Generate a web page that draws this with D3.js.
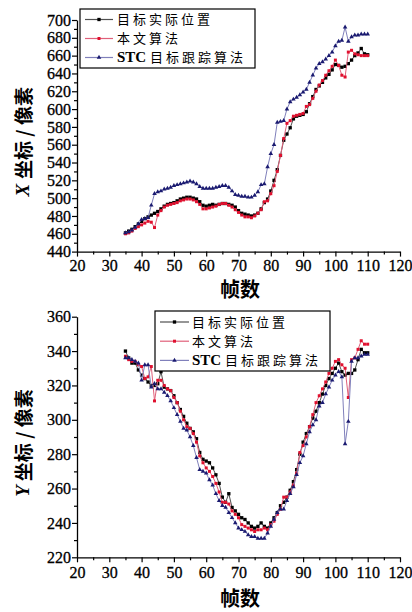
<!DOCTYPE html>
<html><head><meta charset="utf-8">
<script src="https://cdn.jsdelivr.net/npm/d3@7"></script>
<style>body{margin:0;background:#fff}</style>
</head><body><svg id="c" width="412" height="612"></svg>
<script>
const frames = [35,36,37,38,39,40,41,42,43,44,45,46,47,48,49,50,51,52,53,54,55,56,57,58,59,60,61,62,63,64,65,66,67,68,69,70,71,72,73,74,75,76,77,78,79,80,81,82,83,84,85,86,87,88,89,90,91,92,93,94,95,96,97,98,99,100,101,102,103,104,105,106,107,108,109,110];
const seriesNames = ["目标实际位置","本文算法","STC 目标跟踪算法"];
const xTicks = [20,30,40,50,60,70,80,90,100,110,120];
const xTopTicks = [440,460,480,500,520,540,560,580,600,620,640,660,680,700];
const yBotTicks = [220,240,260,280,300,320,340,360];

const xActual = [461,463,465,468,471,474,477,479,481,483,
485,488,491,493,494,495,497,499,500,501,
501,500,499,496,492,491,492,493,492,493,
494,494,493,492,490,486,483,482,481,480,
481,483,488,495,499,508,520,532,548,565,
572,579,589,592,593,594,597,606,614,622,
626,630,635,639,644,650,649,647,648,651,
655,660,663,668,662,661];
const xOurs = [460,461,463,466,468,470,472,474,473,467,
481,486,490,492,493,494,495,497,498,499,
499,498,496,493,488,488,489,490,491,493,
494,494,492,490,487,484,481,479,479,478,
480,483,487,496,497,505,514,530,548,567,
584,587,592,593,594,595,603,605,612,620,
627,632,638,643,648,655,649,638,636,664,
666,662,661,660,660,660];
const xSTC = [461,462,464,467,471,476,477,478,492,505,
507,508,510,511,512,514,515,516,517,518,
519,518,516,513,511,511,511,511,512,513,
514,514,512,508,504,503,502,502,501,501,
503,507,515,516,535,550,560,585,586,587,
600,608,611,613,616,619,622,630,638,646,
651,653,656,660,664,671,676,677,692,676,
681,683,683,684,684,684];

const yActual = [340,336,333,333,329,326,324,322,320,320,
321,328,319,318,317,314,310,306,302,298,
295,293,289,281,277,276,275,272,268,263,
255,252,257,249,247,245,243,242,240,238,
237,238,240,238,237,240,243,246,250,252,
255,259,264,271,280,287,292,296,301,305,
310,315,320,324,327,330,333,328,326,327,
327,329,335,341,339,339];
const yOurs = [337,335,334,334,332,331,324,325,331,311,
323,323,320,318,317,313,310,305,300,296,
295,292,287,279,275,272,270,267,263,258,
252,252,251,247,245,243,239,238,237,236,
235,236,236,237,236,239,241,245,248,255,
255,258,262,269,281,285,290,296,303,310,
314,318,322,327,330,334,335,332,330,313,
335,336,341,346,344,344];
const ySTC = [336,336,335,334,333,323,332,332,319,321,
318,318,316,314,311,307,303,299,295,294,
290,285,278,271,270,269,265,262,257,253,
250,249,246,243,240,237,236,235,233,232,
232,231,231,231,234,238,242,246,248,248,
253,257,261,268,275,279,286,293,297,300,
308,310,315,319,323,326,328,325,286,299,
334,336,336,337,338,338];

const styles = [
  {line:"#505050", mark:"#000000", shape:d3.symbolSquare, size:11},
  {line:"#e0607a", mark:"#e0102e", shape:d3.symbolSquare, size:9},
  {line:"#8080bb", mark:"#1a1a70", shape:d3.symbolTriangle, size:9}
];

const svg = d3.select("#c");
const serif = "'Liberation Serif','Times New Roman',serif";
const cjk = "'Noto Sans CJK SC','Noto Sans CJK JP',sans-serif";
const x = d3.scaleLinear().domain([20,120]).range([77,400]);

function chart(yDomain, yRange, yTicks, data, legend, axisLabel, xLabelPad, titleY){
  const y = d3.scaleLinear().domain(yDomain).range(yRange);
  const g = svg.append("g");
  const bottom = yRange[0];
  const xMinor = xTicks.slice(0,-1).map(v=>v+5);
  g.append("g").attr("transform",`translate(0,${bottom})`)
    .call(d3.axisBottom(x).tickValues(xMinor).tickSize(3).tickFormat(""))
    .call(a=>a.select(".domain").remove());
  const yMinor = yTicks.slice(0,-1).map(v=>v+10);
  g.append("g").attr("transform",`translate(77,0)`)
    .call(d3.axisLeft(y).tickValues(yMinor).tickSize(3).tickFormat(""))
    .call(a=>a.select(".domain").remove());
  const xa = g.append("g").attr("transform",`translate(0,${bottom})`)
    .call(d3.axisBottom(x).tickValues(xTicks).tickSize(5).tickSizeOuter(0).tickPadding(xLabelPad));
  const ya = g.append("g").attr("transform",`translate(77,0)`)
    .call(d3.axisLeft(y).tickValues(yTicks).tickSize(5).tickSizeOuter(0).tickPadding(1));
  [xa,ya].forEach(a=>{
    a.selectAll("text").attr("font-family",serif).attr("font-size",16).attr("fill","#000")
     .attr("stroke","#000").attr("stroke-width",0.3);
    a.selectAll("line,path").attr("stroke","#000").attr("stroke-width",1.3);
  });
  g.selectAll(".tick line").attr("stroke","#000").attr("stroke-width",1.2);

  data.forEach((vals,i)=>{
    const st = styles[i];
    const pts = frames.map((f,k)=>[f,vals[k]]);
    g.append("path").datum(pts)
      .attr("fill","none").attr("stroke",st.line).attr("stroke-width",1)
      .attr("d",d3.line().x(d=>x(d[0])).y(d=>y(d[1])));
    g.append("g").selectAll("path").data(pts).join("path")
      .attr("transform",d=>`translate(${x(d[0])},${y(d[1])})`)
      .attr("d",d3.symbol().type(st.shape).size(st.size))
      .attr("fill",st.mark);
  });

  const L = legend;
  g.append("rect").attr("x",L.x).attr("y",L.y).attr("width",L.w).attr("height",L.h)
    .attr("fill","#fff").attr("stroke","#000").attr("stroke-width",1.2);
  seriesNames.forEach((name,i)=>{
    const st = styles[i];
    const cy = L.y + L.r0 + i*L.dy;
    g.append("line").attr("x1",L.x+L.l0).attr("x2",L.x+L.l1).attr("y1",cy).attr("y2",cy)
      .attr("stroke",st.line).attr("stroke-width",1.2);
    g.append("path").attr("transform",`translate(${L.x+(L.l0+L.l1)/2},${cy})`)
      .attr("d",d3.symbol().type(st.shape).size(st.size)).attr("fill",st.mark);
    const t = g.append("text").attr("x",L.x+L.tx).attr("y",cy).attr("dy","0.36em")
      .attr("font-size",13).attr("fill","#000");
    if(name.startsWith("STC")){
      t.append("tspan").attr("font-family",serif).attr("font-weight","bold").attr("font-size",15).text("STC ");
      t.append("tspan").attr("font-family",cjk).attr("letter-spacing",3).text(name.slice(4));
    } else {
      t.attr("font-family",cjk).attr("letter-spacing",3).text(name);
    }
  });

  const yt = svg.append("text").attr("transform",`translate(22,${(yRange[0]+yRange[1])/2+6}) rotate(-90)`)
    .attr("text-anchor","middle").attr("dominant-baseline","central").attr("font-size",19).attr("fill","#000");
  yt.append("tspan").attr("font-family",serif).attr("font-weight","bold").attr("font-style","italic").text(axisLabel+" ");
  yt.append("tspan").attr("font-family",cjk).attr("font-weight","bold").text("坐标 / 像素");
  svg.append("text").attr("x",240).attr("y",titleY).attr("text-anchor","middle")
    .attr("font-family",cjk).attr("font-weight","bold").attr("font-size",20).attr("fill","#000").text("帧数");
}

chart([440,700],[251.6,20],xTopTicks,[xActual,xOurs,xSTC],
  {x:80,y:9,w:175,h:59,r0:10.5,dy:19,l0:5,l1:33,tx:37},"X",3,297);
chart([220,360],[557.3,316.7],yBotTicks,[yActual,yOurs,ySTC],
  {x:155,y:311,w:175,h:60,r0:11,dy:19.2,l0:5,l1:34,tx:37},"Y",4,606);
</script></body></html>
